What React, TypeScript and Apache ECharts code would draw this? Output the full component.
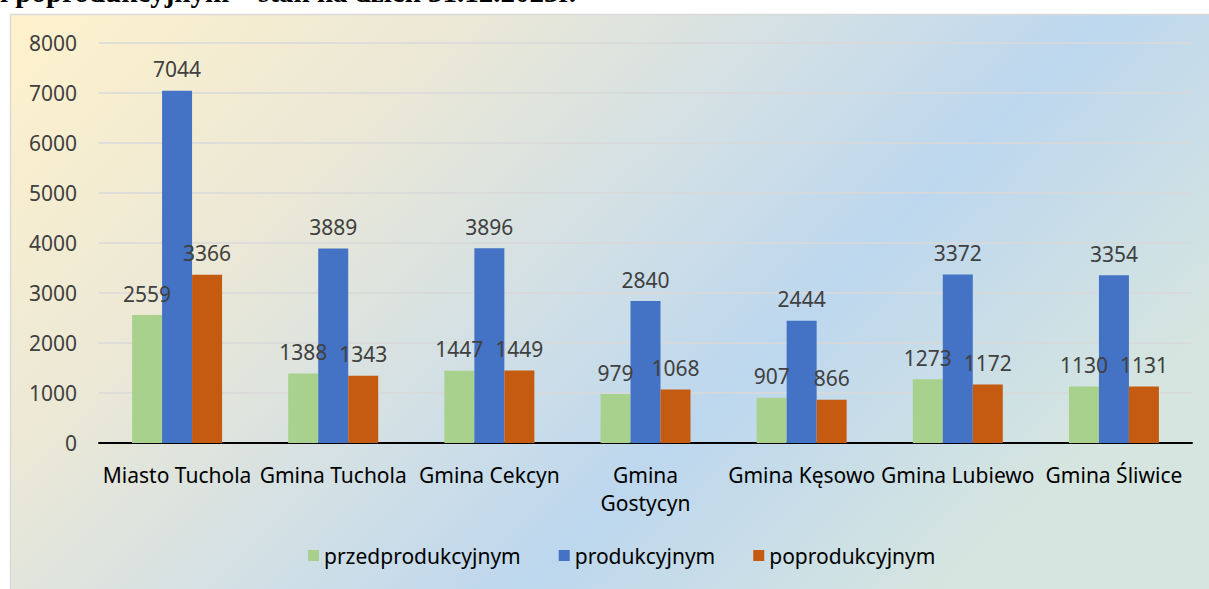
import React, { useEffect, useRef } from "react";
import * as echarts from "echarts";

const categories = ["Miasto Tuchola", "Gmina Tuchola", "Gmina Cekcyn", "Gmina\nGostycyn", "Gmina Kęsowo", "Gmina Lubiewo", "Gmina Śliwice"];
const przed = [2559, 1388, 1447, 979, 907, 1273, 1130];
const prod = [7044, 3889, 3896, 2840, 2444, 3372, 3354];
const popr = [3366, 1343, 1449, 1068, 866, 1172, 1131];
const seriesNames = ["przedprodukcyjnym", "produkcyjnym", "poprodukcyjnym"];
const colors = ["#a9d18e", "#4472c4", "#c55a11"];
const titleText = "i poprodukcyjnym – stan na dzień 31.12.2023r.";

const FONT = "'Noto Sans', 'Open Sans', sans-serif";

export default function App() {
  const ref = useRef<HTMLDivElement>(null);
  useEffect(() => {
    const chart = echarts.init(ref.current!, null, { renderer: "svg" });
    const data = [przed, prod, popr];
    chart.setOption({
      animation: false,
      graphic: [
        {
          type: "rect",
          z: -10,
          shape: { x: 10.5, y: 14.5, width: 1220, height: 600 },
          style: {
            fill: new echarts.graphic.LinearGradient(0, 0, 1, 0.5, [
              { offset: 0, color: "#fff2cc" },
              { offset: 0.3, color: "#ebe8d6" },
              { offset: 0.55, color: "#d0dfe6" },
              { offset: 0.72, color: "#bdd7ee" },
              { offset: 1, color: "#d6e5df" },
            ]),
            stroke: "#d9d9d9",
            lineWidth: 1.5,
          },
        },
        {
          type: "text",
          x: 0,
          y: 6,
          style: {
            text: titleText,
            font: "bold 29px 'Liberation Serif', serif",
            fill: "#000",
            verticalAlign: "bottom",
          },
        },
      ],
      legend: {
        bottom: 18,
        left: 303,
        itemWidth: 11,
        itemHeight: 11,
        itemGap: 38,
        icon: "rect",
        textStyle: { fontFamily: FONT, fontSize: 21, color: "#000" },
        data: seriesNames,
      },
      grid: { left: 99, right: 17, top: 43, bottom: 146, containLabel: false },
      xAxis: {
        type: "category",
        data: categories,
        axisLine: { lineStyle: { color: "#000", width: 2 } },
        axisTick: { show: false },
        axisLabel: {
          interval: 0,
          fontFamily: FONT,
          fontSize: 21,
          color: "#000",
          margin: 18,
          lineHeight: 28,
        },
      },
      yAxis: {
        type: "value",
        min: 0,
        max: 8000,
        interval: 1000,
        axisLine: { show: false },
        axisTick: { show: false },
        splitLine: { lineStyle: { color: "#d9d9d9", width: 1.5 } },
        axisLabel: {
          fontFamily: FONT,
          fontSize: 21,
          color: "#404040",
          margin: 22,
          formatter: (v: number) => String(v),
        },
      },
      series: seriesNames.map((name, i) => ({
        name,
        type: "bar",
        data: data[i],
        barWidth: 30,
        barGap: "0%",
        itemStyle: { color: colors[i] },
        label: {
          show: true,
          position: "top",
          distance: 11,
          fontFamily: FONT,
          fontSize: 21,
          color: "#404040",
        },
      })),
    });
    return () => chart.dispose();
  }, []);
  return (
    <div
      ref={ref}
      style={{ position: "absolute", left: 0, top: 0, width: 1209, height: 589, background: "#fff" }}
    />
  );
}
